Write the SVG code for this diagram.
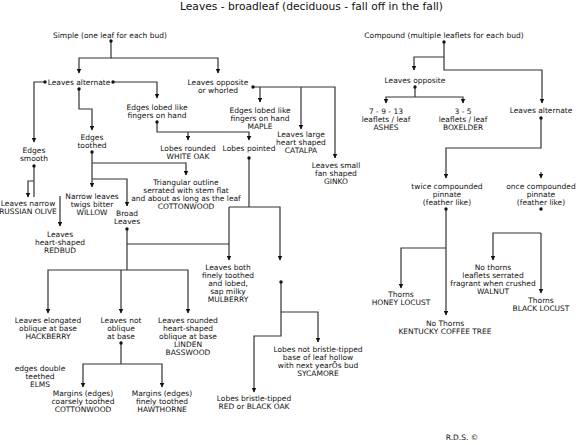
<svg xmlns="http://www.w3.org/2000/svg" width="576" height="445" viewBox="0 0 576 445">
<defs>
<marker id="ah" markerUnits="userSpaceOnUse" markerWidth="5" markerHeight="5" refX="4.5" refY="2.5" orient="auto">
<path d="M0,0 L5,2.5 L0,5 z" fill="#111"/>
</marker>
<style>
text{font-family:"DejaVu Sans","Liberation Sans",sans-serif;font-size:7.5px;fill:#111;text-anchor:middle}
.title{font-size:10.7px}
.c path{fill:none;stroke:#333;stroke-width:1.2}
.c path.a{marker-end:url(#ah)}
.d circle{fill:#111}
</style>
</defs>
<rect width="576" height="445" fill="#fff"/>
<text class="title" x="311.5" y="10">Leaves - broadleaf (deciduous - fall off in the fall)</text>

<g class="c" id="connectors">
<path class="a" d="M111,41 V58 H79 V73"/>
<path class="a" d="M111,58 H218 V73"/>
<path class="a" d="M45,82 H34 V142"/>
<path class="a" d="M113,82 H157 V98"/>
<path class="a" d="M79,89 V109 H92 V130"/>
<path d="M34,166 V197"/>
<path class="a" d="M34,181 H28 V197"/>
<path class="a" d="M60,196 V226"/>
<path class="a" d="M92,152 V187"/>
<path class="a" d="M92,163 H186 V175"/>
<path class="a" d="M92,179 H127 V206"/>
<path class="a" d="M157,122 V132 H249 V140"/>
<path class="a" d="M188,132 V140"/>
<path d="M249,158 V207"/>
<path d="M127,229 V270"/>
<path class="a" d="M127,270 H48 V313"/>
<path class="a" d="M127,270 H188 V313"/>
<path class="a" d="M121,270 V313"/>
<path d="M127,244 H229"/>
<path class="a" d="M229,207 V260"/>
<path class="a" d="M229,207 H280 V260"/>
<path d="M121,343 V364"/>
<path class="a" d="M121,364 H83 V387"/>
<path class="a" d="M121,364 H162 V387"/>
<path class="a" d="M281,282 V336 H254 V392"/>
<path class="a" d="M281,312 H318 V342"/>
<path class="a" d="M253,87 H335 V158"/>
<path class="a" d="M260,87 V102"/>
<path class="a" d="M301,87 V129"/>
<path class="a" d="M444,42 V70 H542 V103"/>
<path class="a" d="M444,57 H414 V70"/>
<path d="M415,87 V97"/>
<path class="a" d="M415,97 H386 V103"/>
<path class="a" d="M415,97 H463 V103"/>
<path class="a" d="M541,118 V148 H446 V178"/>
<path class="a" d="M541,172 V178"/>
<path class="a" d="M446,209 V315"/>
<path class="a" d="M446,248 H401 V288"/>
<path class="a" d="M541,233 V293"/>
<path class="a" d="M541,233 H493 V260"/>
</g>

<g class="d" id="dots">
<circle cx="111" cy="41" r="1.7"/>
<circle cx="45" cy="82" r="1.7"/>
<circle cx="113" cy="82" r="1.7"/>
<circle cx="79" cy="89" r="1.7"/>
<circle cx="157" cy="122" r="1.7"/>
<circle cx="92" cy="152" r="1.7"/>
<circle cx="34" cy="166" r="1.7"/>
<circle cx="249" cy="158" r="1.7"/>
<circle cx="127" cy="229" r="1.7"/>
<circle cx="121" cy="343" r="1.7"/>
<circle cx="281" cy="282" r="1.7"/>
<circle cx="253" cy="87" r="1.7"/>
<circle cx="444" cy="42" r="1.7"/>
<circle cx="415" cy="87" r="1.7"/>
<circle cx="541" cy="118" r="1.7"/>
<circle cx="446" cy="209" r="1.7"/>
<circle cx="541" cy="209" r="1.7"/>
</g>

<g id="simple"><text x="110" y="37.5">Simple (one leaf for each bud)</text></g>
<g id="alt-left"><text x="79" y="85">Leaves alternate</text></g>
<g id="opposite-whorled"><text x="218" y="85">Leaves opposite<tspan x="218" dy="8">or whorled</tspan></text></g>
<g id="lobed-left"><text x="157" y="109.5">Edges lobed like<tspan x="157" dy="8">fingers on hand</tspan></text></g>
<g id="maple"><text x="260" y="112.5">Edges lobed like<tspan x="260" dy="8">fingers on hand</tspan><tspan x="260" dy="8">MAPLE</tspan></text></g>
<g id="catalpa"><text x="301" y="137">Leaves large<tspan x="301" dy="8">heart shaped</tspan><tspan x="301" dy="8">CATALPA</tspan></text></g>
<g id="ginko"><text x="336" y="167.5">Leaves small<tspan x="336" dy="8">fan shaped</tspan><tspan x="336" dy="8">GINKO</tspan></text></g>
<g id="white-oak"><text x="188" y="150.5">Lobes rounded<tspan x="188" dy="8">WHITE OAK</tspan></text></g>
<g id="lobes-pointed"><text x="249" y="150.5">Lobes pointed</text></g>
<g id="edges-smooth"><text x="34" y="152.5">Edges<tspan x="34" dy="8">smooth</tspan></text></g>
<g id="edges-toothed"><text x="92" y="139.5">Edges<tspan x="92" dy="8">toothed</tspan></text></g>
<g id="russian-olive"><text x="28" y="205.5">Leaves narrow<tspan x="28" dy="8">RUSSIAN OLIVE</tspan></text></g>
<g id="redbud"><text x="60" y="236.5">Leaves<tspan x="60" dy="8">heart-shaped</tspan><tspan x="60" dy="8">REDBUD</tspan></text></g>
<g id="willow"><text x="92" y="198.5">Narrow leaves<tspan x="92" dy="8">twigs bitter</tspan><tspan x="92" dy="8">WILLOW</tspan></text></g>
<g id="cottonwood-tri"><text x="186" y="185">Triangular outline<tspan x="186" dy="8">serrated with stem flat</tspan><tspan x="186" dy="8">and about as long as the leaf</tspan><tspan x="186" dy="8">COTTONWOOD</tspan></text></g>
<g id="broad"><text x="127" y="216">Broad<tspan x="127" dy="8">Leaves</tspan></text></g>
<g id="mulberry"><text x="228" y="269.5">Leaves both<tspan x="228" dy="8">finely toothed</tspan><tspan x="228" dy="8">and lobed,</tspan><tspan x="228" dy="8">sap milky</tspan><tspan x="228" dy="8">MULBERRY</tspan></text></g>
<g id="hackberry"><text x="48" y="322.5">Leaves elongated<tspan x="48" dy="8">oblique at base</tspan><tspan x="48" dy="8">HACKBERRY</tspan></text></g>
<g id="not-oblique"><text x="121" y="322.5">Leaves not<tspan x="121" dy="8">oblique</tspan><tspan x="121" dy="8">at base</tspan></text></g>
<g id="linden"><text x="188" y="322.5">Leaves rounded<tspan x="188" dy="8">heart-shaped</tspan><tspan x="188" dy="8">oblique at base</tspan><tspan x="188" dy="8">LINDEN</tspan><tspan x="188" dy="8">BASSWOOD</tspan></text></g>
<g id="elms"><text x="40" y="370.5">edges double<tspan x="40" dy="8">teethed</tspan><tspan x="40" dy="8">ELMS</tspan></text></g>
<g id="cottonwood-coarse"><text x="83" y="395.5">Margins (edges)<tspan x="83" dy="8">coarsely toothed</tspan><tspan x="83" dy="8">COTTONWOOD</tspan></text></g>
<g id="hawthorne"><text x="162" y="395.5">Margins (edges)<tspan x="162" dy="8">finely toothed</tspan><tspan x="162" dy="8">HAWTHORNE</tspan></text></g>
<g id="sycamore"><text x="318" y="351.5">Lobes not bristle-tipped<tspan x="318" dy="8">base of leaf hollow</tspan><tspan x="318" dy="8">with next yearÕs bud</tspan><tspan x="318" dy="8">SYCAMORE</tspan></text></g>
<g id="red-black-oak"><text x="254" y="400.5">Lobes bristle-tipped<tspan x="254" dy="8">RED or BLACK OAK</tspan></text></g>
<g id="compound"><text x="444" y="37.5">Compound (multiple leaflets for each bud)</text></g>
<g id="opp-right"><text x="415" y="82.5">Leaves opposite</text></g>
<g id="ashes"><text x="386" y="113.5">7 - 9 - 13<tspan x="386" dy="8">leaflets / leaf</tspan><tspan x="386" dy="8">ASHES</tspan></text></g>
<g id="boxelder"><text x="463" y="113.5">3 - 5<tspan x="463" dy="8">leaflets / leaf</tspan><tspan x="463" dy="8">BOXELDER</tspan></text></g>
<g id="alt-right"><text x="541" y="112.5">Leaves alternate</text></g>
<g id="twice"><text x="447" y="188.5">twice compounded<tspan x="447" dy="8">pinnate</tspan><tspan x="447" dy="8">(feather like)</tspan></text></g>
<g id="once"><text x="541" y="188.5">once compounded<tspan x="541" dy="8">pinnate</tspan><tspan x="541" dy="8">(feather like)</tspan></text></g>
<g id="walnut"><text x="493" y="269.5">No thorns<tspan x="493" dy="8">leaflets serrated</tspan><tspan x="493" dy="8">fragrant when crushed</tspan><tspan x="493" dy="8">WALNUT</tspan></text></g>
<g id="black-locust"><text x="541" y="302.5">Thorns<tspan x="541" dy="8">BLACK LOCUST</tspan></text></g>
<g id="honey-locust"><text x="401" y="296.5">Thorns<tspan x="401" dy="8">HONEY LOCUST</tspan></text></g>
<g id="kentucky"><text x="445" y="325.5">No Thorns<tspan x="445" dy="8">KENTUCKY COFFEE TREE</tspan></text></g>
<g id="credit"><text x="462" y="440">R.D.S. ©</text></g>
</svg>
